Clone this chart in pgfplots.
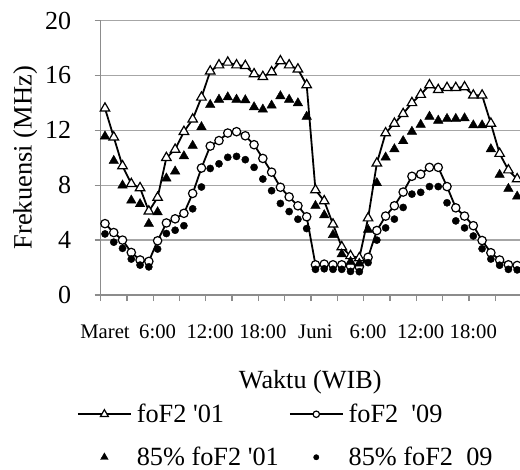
\documentclass[border=0pt]{standalone}
\usepackage{fontspec}
\setmainfont{Liberation Serif}
\usepackage{pgfplots}
\usepackage{pgfplotstable}
\pgfplotsset{compat=1.18}
\definecolor{gridgray}{RGB}{166,166,166}
\definecolor{axisgray}{RGB}{140,140,140}
\pgfplotsset{legimg/.style={legend image code/.code={\draw[mark repeat=2,mark phase=2,##1,mark size=#1] plot coordinates {(0bp,0bp) (26.5bp,0bp) (53bp,0bp)};}}}
\pgfplotstableread{
i a b c d
0 13.6 5.2 11.56 4.45
1 11.5 4.55 9.78 3.85
2 9.4 4.0 7.99 3.4
3 8.1 3.1 6.89 2.62
4 7.8 2.55 6.63 2.18
5 6.1 2.45 5.19 2.05
6 7.1 3.95 6.04 3.35
7 10.0 5.25 8.5 4.48
8 10.6 5.55 9.01 4.72
9 11.9 5.95 10.12 5.05
10 12.8 7.4 10.88 6.28
11 14.4 9.25 12.24 7.87
12 16.3 10.85 13.86 9.22
13 16.75 11.25 14.24 9.56
14 16.95 11.8 14.41 10.03
15 16.75 11.9 14.24 10.1
16 16.7 11.6 14.2 9.86
17 16.1 10.95 13.69 9.3
18 15.9 9.95 13.52 8.45
19 16.25 8.95 13.81 7.6
20 17.05 7.85 14.49 6.67
21 16.75 7.15 14.24 6.08
22 16.45 6.5 13.98 5.52
23 15.3 5.7 13.0 4.84
24 7.65 2.2 6.5 1.87
25 6.85 2.25 5.82 1.91
26 5.15 2.2 4.38 1.87
27 3.5 2.2 2.98 1.87
28 2.85 2.1 2.42 1.72
29 2.7 2.05 2.3 1.7
30 5.6 2.75 4.76 2.36
31 9.6 4.7 8.16 4.0
32 11.8 5.75 10.03 4.89
33 12.5 6.5 10.63 5.53
34 13.2 7.5 11.22 6.38
35 14.0 8.65 11.9 7.35
36 14.6 8.8 12.41 7.48
37 15.3 9.3 13.0 7.9
38 14.95 9.3 12.71 7.9
39 15.1 7.9 12.84 6.72
40 15.1 6.35 12.84 5.4
41 15.15 5.75 12.88 4.89
42 14.55 5.05 12.37 4.3
43 14.55 3.97 12.37 3.37
44 12.5 3.08 10.63 2.62
45 10.3 2.55 8.76 2.17
46 9.1 2.2 7.74 1.87
47 8.45 2.15 7.18 1.83
}\data
\begin{document}
\begin{tikzpicture}
\path[use as bounding box] (-100.6bp,-175bp) rectangle (419.4bp,295bp);
\begin{axis}[
  at={(0,0)}, anchor=south west,
  scale only axis, width=419.2bp, height=274.5bp,
  xmin=-0.5, xmax=47.3, ymin=0, ymax=20,
  axis x line*=bottom, axis y line*=left,
  axis line style={draw=axisgray, line width=1.3bp},
  ytick={0,4,...,20},
  ymajorgrids, grid style={draw=gridgray, line width=1.3bp},
  xtick={-0.5,2.5,...,47}, xticklabels={},
  extra x ticks={0,6,...,42},
  extra x tick labels={Maret,6:00,12:00,18:00,Juni,6:00,12:00,18:00},
  extra x tick style={major tick length=0pt},
  tick align=outside, major tick length=6bp,
  tick style={draw=axisgray, line width=1.3bp},
  xticklabel style={font=\fontsize{20.7bp}{24bp}\selectfont, anchor=base, inner sep=0pt, yshift=-43.5bp},
  yticklabel style={font=\fontsize{26bp}{30bp}\selectfont, anchor=east, inner sep=0pt, xshift=-23.3bp},
  /pgf/number format/assume math mode=true,
  xlabel={Waktu (WIB)}, ylabel={Frekuensi (MHz)},
  xlabel style={font=\fontsize{26.2bp}{30bp}\selectfont, at={(axis description cs:0.5,-0.3424)}, anchor=base, inner sep=0pt},
  ylabel style={font=\fontsize{26.5bp}{30bp}\selectfont, at={(axis description cs:-0.1646,0.5)}, anchor=base, inner sep=0pt},
  legend columns=2,
  legend cell align=left,
  legend style={at={(axis description cs:-0.0563,-0.398)}, anchor=north west, draw=none, fill=none, inner sep=0pt, outer sep=0pt,
    font=\fontsize{26.3bp}{30bp}\selectfont, row sep=23bp, nodes={inner sep=0pt},
    /tikz/every odd column/.append style={column sep=5bp},
    /tikz/every even column/.append style={column sep=10bp}},
]
\addplot[black, line width=1.8bp, mark=triangle*, mark size=5.5bp,
  mark options={solid, fill=white, draw=black, line width=1.2bp}, legimg=4.6bp]
  table[x=i, y=a] {\data};
\addlegendentry{foF2 \textquotesingle 01}
\addplot[black, line width=1.8bp, mark=*, mark size=4.2bp,
  mark options={solid, fill=white, draw=black, line width=1.2bp}, legimg=3.2bp]
  table[x=i, y=b] {\data};
\addlegendentry{foF2\ \ \textquotesingle 09}
\addplot[only marks, black, mark=triangle*, mark size=5.5bp,
  mark options={solid, fill=black, draw=black}, legimg=4.4bp]
  table[x=i, y=c] {\data};
\addlegendentry{85\% foF2 \textquotesingle 01}
\addplot[only marks, black, mark=*, mark size=3.6bp,
  mark options={solid, fill=black, draw=black}, legimg=2.7bp]
  table[x=i, y=d] {\data};
\addlegendentry{85\% foF2\ \ 09}
\end{axis}
\end{tikzpicture}
\end{document}
